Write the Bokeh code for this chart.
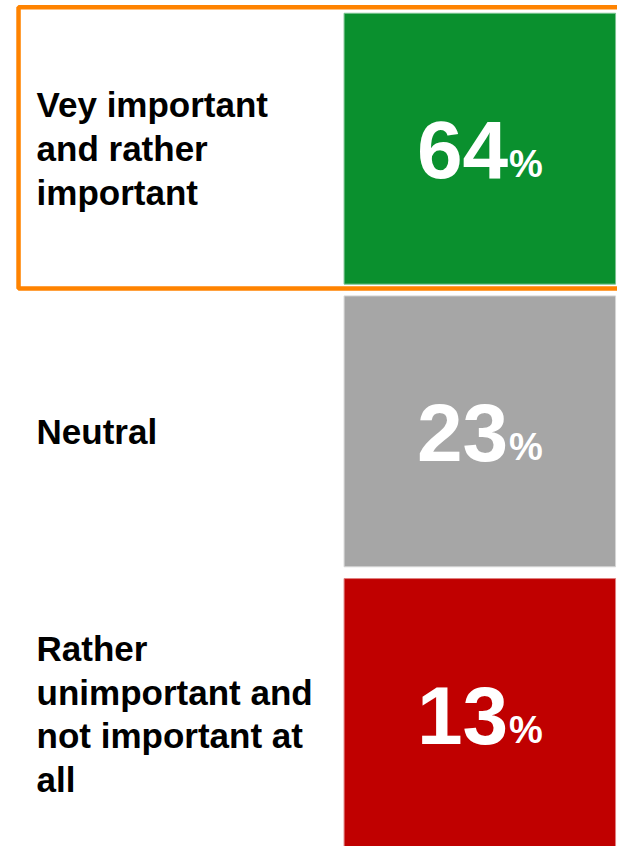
from bokeh.plotting import figure
from bokeh.models import ColumnDataSource, Range1d
from bokeh.core.properties import value
from bokeh.embed import file_html
from bokeh.resources import INLINE

# ---- data ----
categories = [
    "Vey important\nand rather\nimportant",
    "Neutral",
    "Rather\nunimportant and\nnot important at\nall",
]
values = [64, 23, 13]
colors = ["#0A902E", "#A6A6A6", "#C00000"]
edge_colors = ["#7cc391", "#d6d6d6", "#e08080"]
highlight_index = 0

# ---- layout constants (reference pixels) ----
ROW_TOP = 13
ROW_PITCH = 288
BOX_H = 276
BOX_LEFT = 352.5
BOX_RIGHT = 631
LABEL_X = 37
NUM_SIZE = 82
PCT_SIZE = 38
BASE_OFF = 33  # baseline below row centre

yc = [ROW_TOP + BOX_H / 2 + i * ROW_PITCH for i in range(len(values))]
cx = (BOX_LEFT + BOX_RIGHT) / 2

src = ColumnDataSource(dict(
    label=categories,
    num=[str(v) for v in values],
    pct=["%"] * len(values),
    y=yc,
    top=[y - BOX_H / 2 for y in yc],
    bottom=[y + BOX_H / 2 for y in yc],
    ynum=[y + BASE_OFF - 0.39 * NUM_SIZE for y in yc],
    ypct=[y + BASE_OFF - 0.45 * PCT_SIZE for y in yc],
    color=colors,
    edge=edge_colors,
))

p = figure(width=617, height=846, output_backend="svg", toolbar_location=None,
           x_range=Range1d(0, 633), y_range=Range1d(862, 0), min_border=0)
p.axis.visible = False
p.grid.visible = False
p.outline_line_color = None
p.background_fill_color = "white"
p.border_fill_color = "white"

p.quad(left=BOX_LEFT, right=BOX_RIGHT, top="top", bottom="bottom", source=src,
       fill_color="color", line_color="edge", line_width=1)

# highlight frame around first category
hy = yc[highlight_index]
p.quad(left=18.5, right=650, top=hy - BOX_H / 2 - 6, bottom=hy + BOX_H / 2 + 4.5,
       fill_color=None, line_color="#FF8300", line_width=4.5)

p.text(x=LABEL_X, y="y", text="label", source=src,
       text_font=value("Liberation Sans"), text_font_style="bold",
       text_font_size="35px", text_baseline="middle", text_align="left",
       text_line_height=1.125, text_color="black")

p.text(x=cx + 29, y="ynum", text="num", source=src,
       text_font=value("Liberation Sans"), text_font_style="bold",
       text_font_size=f"{NUM_SIZE}px", text_baseline="alphabetic", text_align="right",
       text_color="white")
p.text(x=cx + 30, y="ypct", text="pct", source=src,
       text_font=value("Liberation Sans"), text_font_style="bold",
       text_font_size=f"{PCT_SIZE}px", text_baseline="alphabetic", text_align="left",
       text_color="white")

open("out.html", "w").write(file_html(p, INLINE))
